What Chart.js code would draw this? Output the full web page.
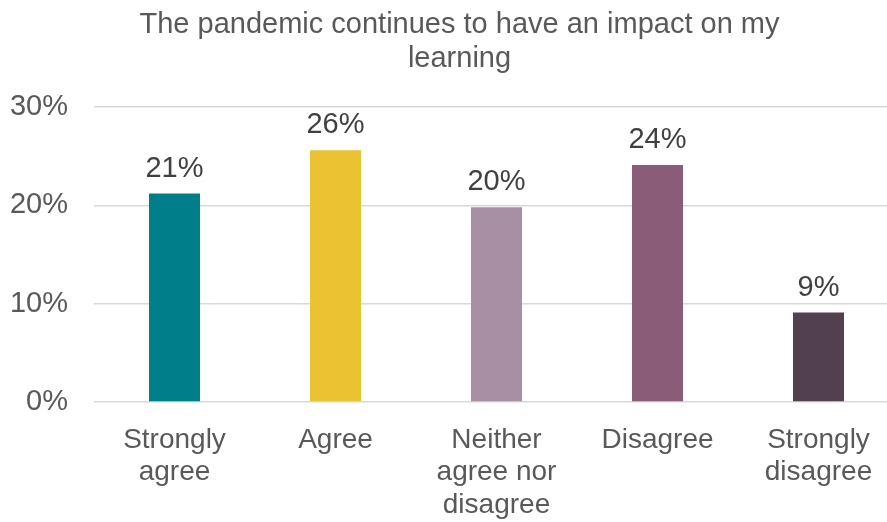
<!DOCTYPE html>
<html>
<head>
<meta charset="utf-8">
<title>Pandemic impact on learning</title>
<script src="https://cdn.jsdelivr.net/npm/chart.js@4/dist/chart.umd.min.js"></script>
<style>
  html, body { margin: 0; padding: 0; background: #fff; overflow: hidden; }
  #wrap { width: 899px; height: 522px; }
</style>
</head>
<body>
<div id="wrap"><canvas id="myChart" width="899" height="522"></canvas></div>
<script>
// survey answers, percent of respondents
const chartTitle = ['The pandemic continues to have an impact on my', 'learning']
const answers = [['Strongly', 'agree'], 'Agree', ['Neither', 'agree nor', 'disagree'], 'Disagree', ['Strongly', 'disagree']]
const shares = [21.2, 25.6, 19.8, 24.1, 9.1]
const barColours = ['#007E8A', '#EBC232', '#A88FA4', '#8A5C78', '#53404E']
const yTicks = [0, 10, 20, 30]

const fontFamily = '"Liberation Sans", Arial, sans-serif'

// title sits a little right of the canvas middle, so it is drawn by hand
const topTitle = {
  id: 'topTitle',
  afterDraw(chart) {
    const ctx = chart.ctx
    ctx.save()
    ctx.font = '29px ' + fontFamily
    ctx.fillStyle = '#595959'
    ctx.textAlign = 'center'
    ctx.textBaseline = 'alphabetic'
    chartTitle.forEach((line, i) => {
      ctx.fillText(line, 459.5, 33 + i * 34)
    })
    ctx.restore()
  }
}

// writes the rounded percentage above every bar
const valueLabels = {
  id: 'valueLabels',
  afterDatasetsDraw(chart) {
    const ctx = chart.ctx
    const meta = chart.getDatasetMeta(0)
    ctx.save()
    ctx.font = '29px ' + fontFamily
    ctx.fillStyle = '#404040'
    ctx.textAlign = 'center'
    ctx.textBaseline = 'alphabetic'
    meta.data.forEach((bar, i) => {
      ctx.fillText(Math.round(shares[i]) + '%', bar.x, bar.y - 17)
    })
    ctx.restore()
  }
}

const ctx = document.getElementById('myChart')

const myChart = new Chart(ctx, {
  type: 'bar',
  data: {
    labels: answers,
    datasets: [{
      data: shares,
      backgroundColor: barColours,
      barPercentage: 0.317,
      categoryPercentage: 1
    }]
  },
  options: {
    responsive: false,
    animation: false,
    devicePixelRatio: 1,
    layout: { padding: { left: 0, right: 0, top: 107, bottom: 0 } },
    plugins: {
      legend: { display: false },
      tooltip: { enabled: false },
      title: { display: false }
    },
    scales: {
      x: {
        grid: { display: false },
        border: { display: false },
        ticks: {
          color: '#595959',
          font: { family: fontFamily, size: 28, lineHeight: 1.16 },
          padding: 14,
          maxRotation: 0,
          autoSkip: false
        },
        afterFit(scale) { scale.height = 120 }
      },
      y: {
        min: 0,
        max: 30,
        afterBuildTicks(scale) { scale.ticks = yTicks.map(v => ({ value: v })) },
        grid: { color: '#d9d9d9', lineWidth: 1.5, drawTicks: false },
        border: { display: false },
        ticks: {
          color: '#595959',
          font: { family: fontFamily, size: 29 },
          padding: 26,
          callback: v => v + '%'
        },
        afterFit(scale) { scale.width = 94 }
      }
    }
  },
  plugins: [topTitle, valueLabels]
})
</script>
</body>
</html>
